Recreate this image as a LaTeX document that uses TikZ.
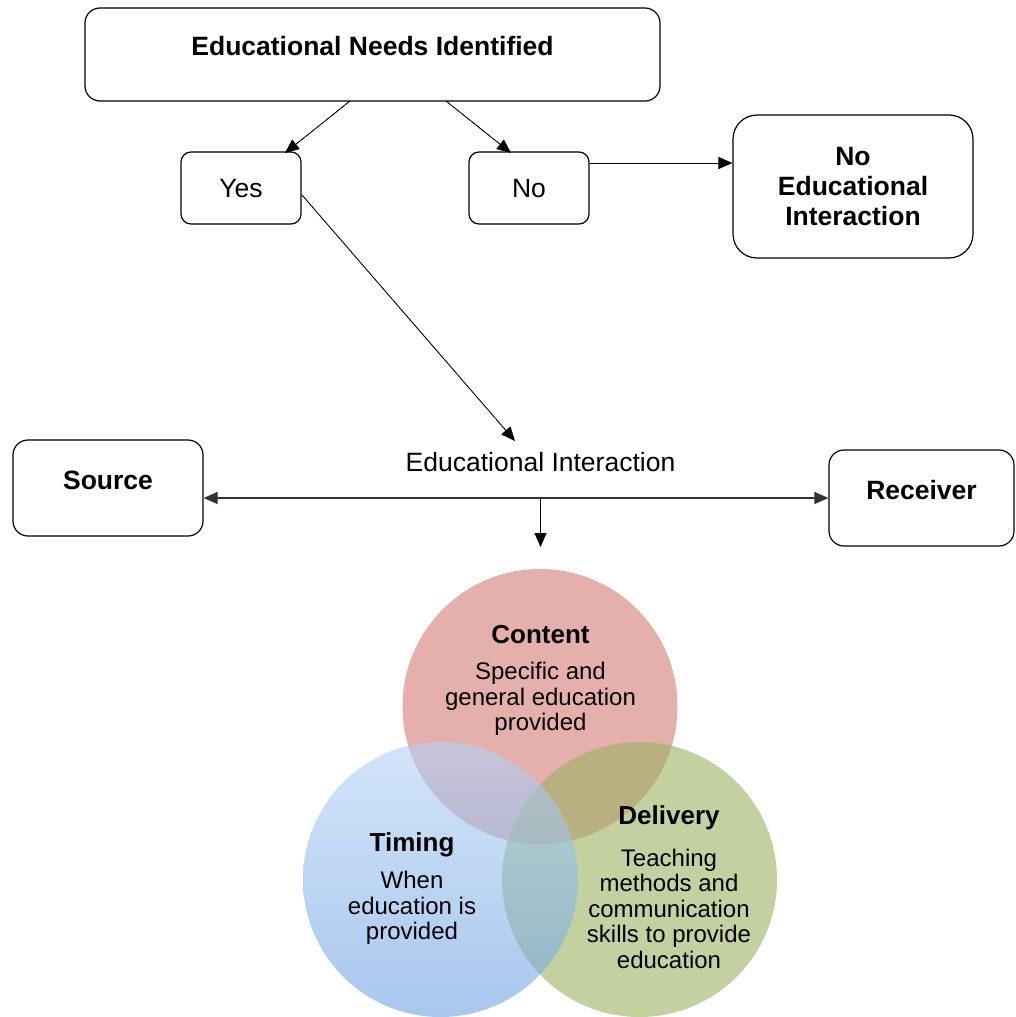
\documentclass[tikz,border=0pt]{standalone}
\usepackage{fontspec}
\setmainfont{Liberation Sans}
\usetikzlibrary{arrows.meta}

\definecolor{contentfill}{RGB}{212,123,117}
\definecolor{deliveryfill}{RGB}{155,177,97}
\definecolor{timingtop}{RGB}{180,210,247}
\definecolor{timingbottom}{RGB}{110,162,223}

\tikzset{
  box/.style={draw, line width=1.2pt, rounded corners=#1, inner sep=0pt},
  box/.default=14pt,
  arr/.style={line width=0.9pt, -{Triangle[length=14pt,width=12pt]}},
  biarr/.style={line width=1.2pt, draw=black!80, {Triangle[length=14pt,width=12pt]}-{Triangle[length=14pt,width=12pt]}},
  lbl/.style={font=\fontsize{26.5}{30}\selectfont, align=center, inner sep=0pt},
  blbl/.style={font=\fontsize{26.5}{30}\selectfont\bfseries, align=center, inner sep=0pt},
  ctitle/.style={font=\fontsize{26}{30}\selectfont\bfseries, align=center, inner sep=0pt},
  cbody/.style={font=\fontsize{24}{25.5}\selectfont, align=center, inner sep=0pt},
  venn/.style={fill opacity=0.6, draw=none}
}

\begin{document}
\begin{tikzpicture}[x=1pt, y=-1pt]
\useasboundingbox (0,0) rectangle (1016,1017);

% decision boxes
\node[box=15pt, minimum width=575pt, minimum height=93pt] (need) at (372.5,54.5) {};
\node[blbl] (needtxt) at (372.5,46) {Educational Needs Identified};

\node[box=10pt, minimum width=120pt, minimum height=72pt] (yes) at (241,188) {};
\node[lbl] (yestxt) at (241,189) {Yes};

\node[box=10pt, minimum width=120pt, minimum height=72pt] (no) at (529,188) {};
\node[lbl] (notxt) at (529,189) {No};

\node[box=24pt, minimum width=240pt, minimum height=143pt] (noint) at (853,186.5) {};
\node[blbl] (nointtxt) at (853,187) {No\\Educational\\Interaction};

% source and receiver
\node[box=15pt, minimum width=190pt, minimum height=96pt] (source) at (108,488) {};
\node[blbl] (sourcetxt) at (108,480) {Source};

\node[box=15pt, minimum width=185pt, minimum height=96pt] (receiver) at (921.5,498) {};
\node[blbl] (receivertxt) at (921.5,490) {Receiver};

\node[lbl] (eilabel) at (540.5,462) {Educational Interaction};

% anchor points for the connectors
\coordinate (yesout) at (350,101);
\coordinate (noout) at (446,101);
\coordinate (yestip) at (285,153);
\coordinate (notip) at (511,153);
\coordinate (yesfrom) at (302,195);
\coordinate (eitip) at (515,441);
\coordinate (split) at (540.5,498);
\coordinate (venntip) at (540.5,547);

% connectors
\draw[arr] (yesout) -- (yestip);
\draw[arr] (noout) -- (notip);
\draw[arr] (no.east |- 0,163) -- (noint.west |- 0,163);
\draw[arr] (yesfrom) -- (eitip);
\draw[biarr] (source.east |- split) -- (receiver.west |- split);
\draw[arr] (split) -- (venntip);

% overlapping circles: content, then delivery, then timing on top
\fill[venn, contentfill] (540,706.5) circle (137.5pt);
\fill[venn, deliveryfill] (639.5,879.5) circle (137.5pt);
\shade[venn, top color=timingtop, bottom color=timingbottom] (440.5,879.5) circle (137.5pt);

\node[ctitle] (contenttitle) at (540.5,635) {Content};
\node[cbody] (contentbody) at (540.5,699) {Specific and\\general education\\provided};

\node[ctitle] (timingtitle) at (412,845) {Timing};
\node[cbody] (timingbody) at (412,908) {When\\education is\\provided};

\node[ctitle] (deliverytitle) at (669,818) {Delivery};
\node[cbody] (deliverybody) at (669,908.5) {Teaching\\methods and\\communication\\skills to provide\\education};
\end{tikzpicture}
\end{document}
